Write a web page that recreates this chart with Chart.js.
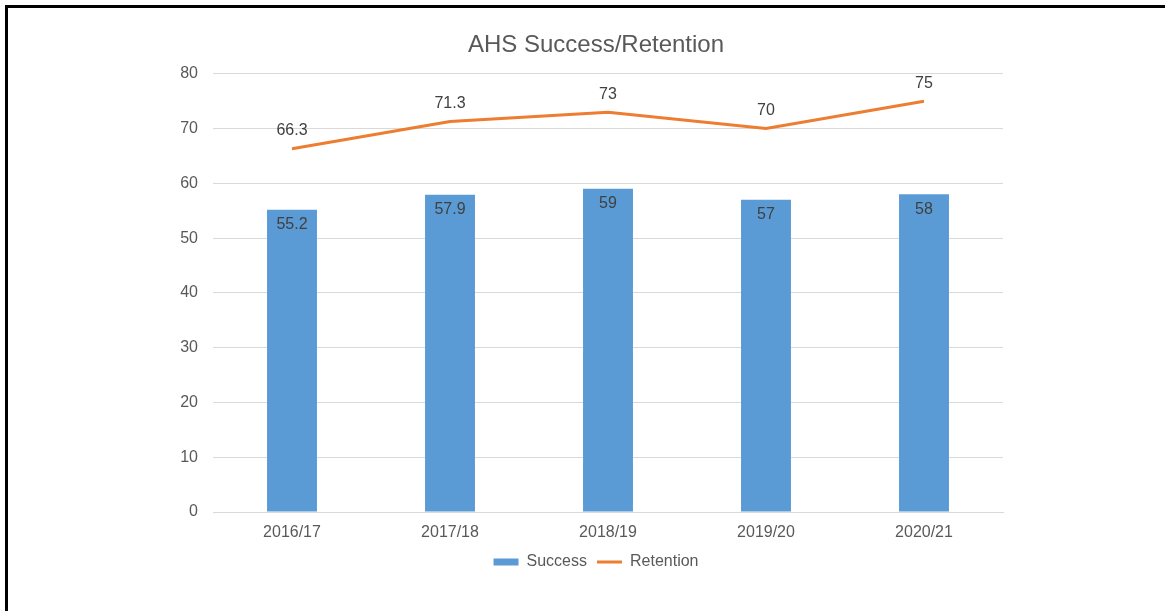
<!DOCTYPE html>
<html>
<head>
<meta charset="utf-8">
<script src="https://cdn.jsdelivr.net/npm/chart.js@4.4.1/dist/chart.umd.min.js"></script>
<style>
  html, body { margin: 0; padding: 0; background: #ffffff; }
  #wrap { position: relative; width: 1165px; height: 611px; overflow: hidden; }
  #frame { position: absolute; left: 5px; top: 5px; right: -10px; bottom: -10px; border-top: 3px solid #000; border-left: 3px solid #000; pointer-events: none; }
  canvas { position: absolute; left: 0; top: 0; }
</style>
</head>
<body>
<div id="wrap">
  <canvas id="c" width="1165" height="611"></canvas>
  <div id="frame"></div>
</div>
<script>
const categories = ["2016/17", "2017/18", "2018/19", "2019/20", "2020/21"];
const successValues = [55.2, 57.9, 59, 57, 58];
const retentionValues = [66.3, 71.3, 73, 70, 75];
const yTicks = [0, 10, 20, 30, 40, 50, 60, 70, 80];

const FONT = "'Liberation Sans', Arial, sans-serif";
const TEXT = '#595959';

const labelPlugin = {
  id: 'valueLabels',
  afterDatasetsDraw(chart) {
    const ctx = chart.ctx;
    ctx.save();
    ctx.font = '16px ' + FONT;
    ctx.fillStyle = '#404040';
    ctx.textAlign = 'center';
    ctx.textBaseline = 'middle';
    chart.data.datasets.forEach((ds, di) => {
      const meta = chart.getDatasetMeta(di);
      meta.data.forEach((el, i) => {
        const v = ds.data[i];
        const y = ds.type === 'bar' ? el.y + 15 : el.y - 18;
        ctx.fillText(String(v), el.x, y);
      });
    });
    ctx.restore();
  }
};

// Shift title and legend so they are centred like the reference
const shiftPlugin = {
  id: 'shiftBlocks',
  afterLayout(chart) {
    const dx = 18;
    if (chart.titleBlock) { chart.titleBlock.left += dx; chart.titleBlock.right += dx; }
    if (chart.legend) { chart.legend.left += dx; chart.legend.right += dx; }
  }
};

new Chart(document.getElementById('c'), {
  data: {
    labels: categories,
    datasets: [
      {
        type: 'line',
        label: 'Retention',
        data: retentionValues,
        borderColor: '#ED7D31',
        backgroundColor: '#ED7D31',
        borderWidth: 3,
        pointRadius: 0,
        tension: 0,
        order: 0
      },
      {
        type: 'bar',
        label: 'Success',
        data: successValues,
        backgroundColor: '#5B9BD5',
        borderWidth: 0,
        categoryPercentage: 1,
        barPercentage: 0.316,
        order: 1
      }
    ]
  },
  options: {
    responsive: false,
    animation: false,
    layout: { padding: { left: 153, right: 162, top: 23, bottom: 31 } },
    plugins: {
      title: {
        display: true,
        text: 'AHS Success/Retention',
        color: TEXT,
        font: { family: FONT, size: 24, weight: 'normal' },
        padding: { top: 8, bottom: 14 }
      },
      legend: {
        position: 'bottom',
        labels: {
          color: TEXT,
          font: { family: FONT, size: 16 },
          usePointStyle: true,
          pointStyleWidth: 25,
          boxHeight: 7,
          padding: 10,
          sort: (a, b) => b.datasetIndex - a.datasetIndex,
          generateLabels(chart) {
            return chart.data.datasets.map((ds, i) => ({
              text: ds.label,
              datasetIndex: i,
              fillStyle: ds.type === 'bar' ? '#5B9BD5' : '#ED7D31',
              strokeStyle: ds.type === 'bar' ? '#5B9BD5' : '#ED7D31',
              lineWidth: ds.type === 'bar' ? 0 : 3,
              pointStyle: ds.type === 'bar' ? 'rect' : 'line',
              fontColor: TEXT,
              hidden: false
            }));
          }
        }
      },
      tooltip: { enabled: false }
    },
    scales: {
      x: {
        grid: { display: false, drawTicks: false },
        border: { display: true, color: '#d9d9d9', width: 1 },
        ticks: { color: TEXT, font: { family: FONT, size: 16 }, padding: 11 },
        afterFit(scale) { scale.height = 32; }
      },
      y: {
        min: 0,
        max: 80,
        afterBuildTicks(scale) { scale.ticks = yTicks.map(v => ({ value: v })); },
        grid: { color: '#d9d9d9', drawTicks: false },
        border: { display: false },
        ticks: { color: TEXT, font: { family: FONT, size: 16 }, padding: 15 },
        afterFit(scale) { scale.width = 60; }
      }
    }
  },
  plugins: [labelPlugin, shiftPlugin]
});
</script>
</body>
</html>
